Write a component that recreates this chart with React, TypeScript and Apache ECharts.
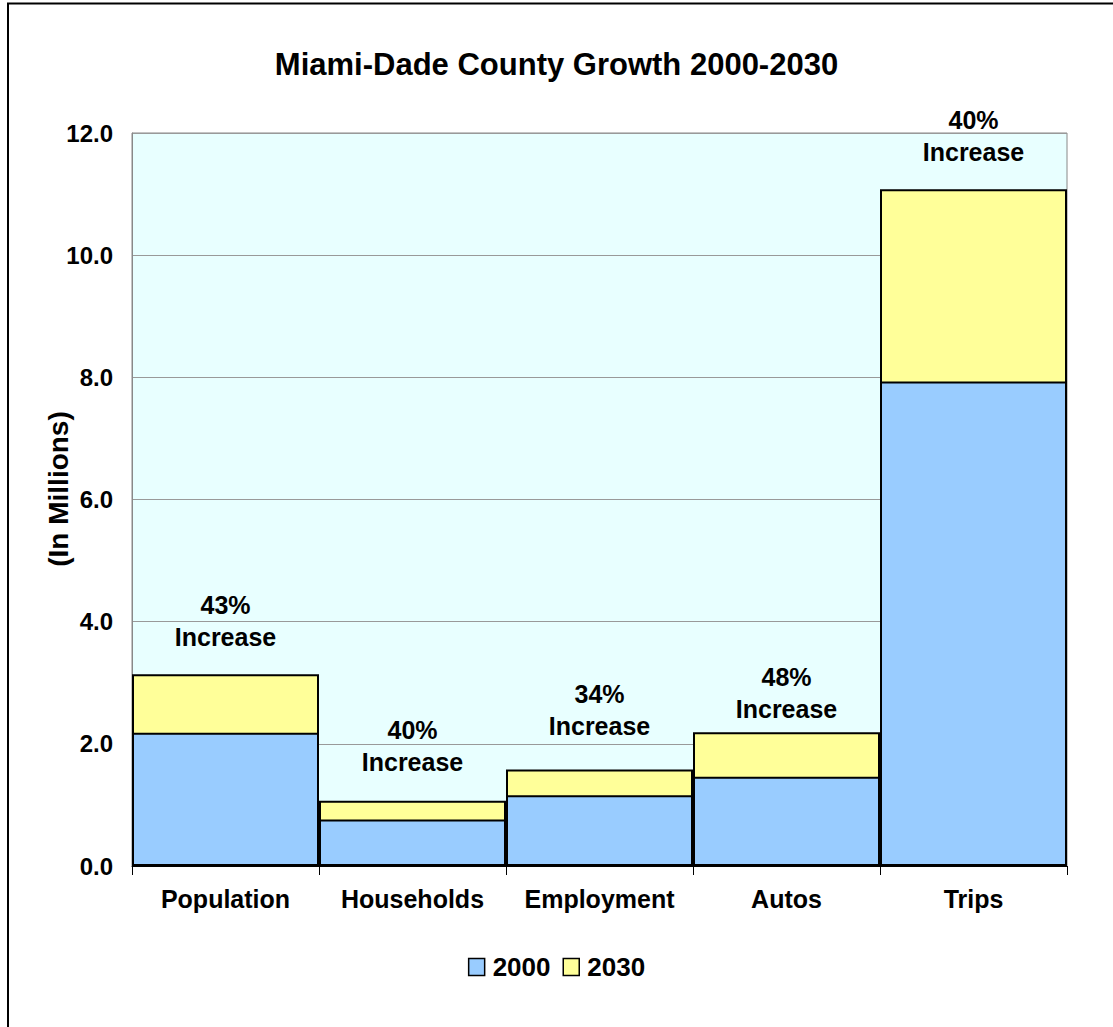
import React, { useEffect, useRef } from "react";
import * as echarts from "echarts";

const categories = ["Population", "Households", "Employment", "Autos", "Trips"];
const values2000 = [2.18, 0.76, 1.16, 1.46, 7.93];
const values2030 = [3.14, 1.07, 1.58, 2.19, 11.08];
const increaseLabels = ["43%", "40%", "34%", "48%", "40%"];
const yMin = 0;
const yMax = 12;
const yInterval = 2;

// label placement (style only): gap between bar top and its "Increase" label
const labelGaps = [21, 23, 27, 7, 21];

const FONT = '"Liberation Sans", Arial, sans-serif';

export default function App() {
  const ref = useRef<HTMLDivElement>(null);
  useEffect(() => {
    if (!ref.current) return;
    const chart = echarts.init(ref.current, null, { renderer: "svg" });
    chart.setOption({
      animation: false,
      backgroundColor: "#ffffff",
      textStyle: { fontFamily: FONT },
      title: {
        text: "Miami-Dade County Growth 2000-2030",
        left: "center",
        top: 49,
        padding: 0,
        textStyle: { fontSize: 31, fontWeight: "bold", color: "#000", fontFamily: FONT },
      },
      legend: {
        data: ["2000", "2030"],
        left: "center",
        top: 954,
        padding: 0,
        icon: "rect",
        itemWidth: 16,
        itemHeight: 17,
        itemGap: 12,
        itemStyle: { borderColor: "#000", borderWidth: 1.5 },
        textStyle: { fontSize: 26, fontWeight: "bold", color: "#000", fontFamily: FONT, padding: [0, 0, 0, 3] },
      },
      grid: {
        left: 132,
        top: 133,
        right: 46,
        bottom: 161,
        show: true,
        backgroundColor: "#E8FFFF",
        borderColor: "#888",
        borderWidth: 1,
      },
      xAxis: {
        type: "category",
        data: categories,
        axisLine: { lineStyle: { color: "#000", width: 1 } },
        axisTick: { show: true, length: 9, lineStyle: { color: "#000" } },
        axisLabel: { interval: 0, fontSize: 25, fontWeight: "bold", color: "#000", margin: 20, fontFamily: FONT },
      },
      yAxis: {
        type: "value",
        min: yMin,
        max: yMax,
        interval: yInterval,
        axisLine: { show: true, lineStyle: { color: "#888" } },
        axisTick: { show: false },
        axisLabel: {
          formatter: (v: number) => v.toFixed(1),
          fontSize: 24,
          fontWeight: "bold",
          color: "#000",
          margin: 19,
          fontFamily: FONT,
        },
        splitLine: { lineStyle: { color: "#999", width: 1 } },
      },
      series: [
        {
          name: "2030",
          type: "bar",
          data: values2030.map((v, i) => ({ value: v, label: { distance: labelGaps[i] } })),
          barCategoryGap: "0%",
          barGap: "-100%",
          itemStyle: { color: "#FFFF99", borderColor: "#000", borderWidth: 2 },
          label: {
            show: true,
            position: "top",
            distance: 21,
            formatter: (p: any) => increaseLabels[p.dataIndex] + "\nIncrease",
            fontSize: 25,
            fontWeight: "bold",
            color: "#000",
            lineHeight: 32,
            fontFamily: FONT,
          },
        },
        {
          name: "2000",
          type: "bar",
          data: values2000,
          barCategoryGap: "0%",
          barGap: "-100%",
          itemStyle: { color: "#99CCFF", borderColor: "#000", borderWidth: 2 },
        },
      ],
      graphic: [
        {
          type: "rect",
          shape: { x: 8, y: 3.5, width: 1300, height: 1300 },
          style: { fill: "none", stroke: "#000", lineWidth: 2 },
          silent: true,
        },
        {
          type: "text",
          x: 58,
          y: 489,
          rotation: Math.PI / 2,
          style: {
            text: "(In Millions)",
            fontSize: 28,
            fontWeight: "bold",
            fill: "#000",
            align: "center",
            verticalAlign: "middle",
            fontFamily: FONT,
          },
        },
      ],
    });
    return () => chart.dispose();
  }, []);
  return (
    <div
      ref={ref}
      style={{ position: "absolute", left: 0, top: 0, width: 1113, height: 1027 }}
    />
  );
}
